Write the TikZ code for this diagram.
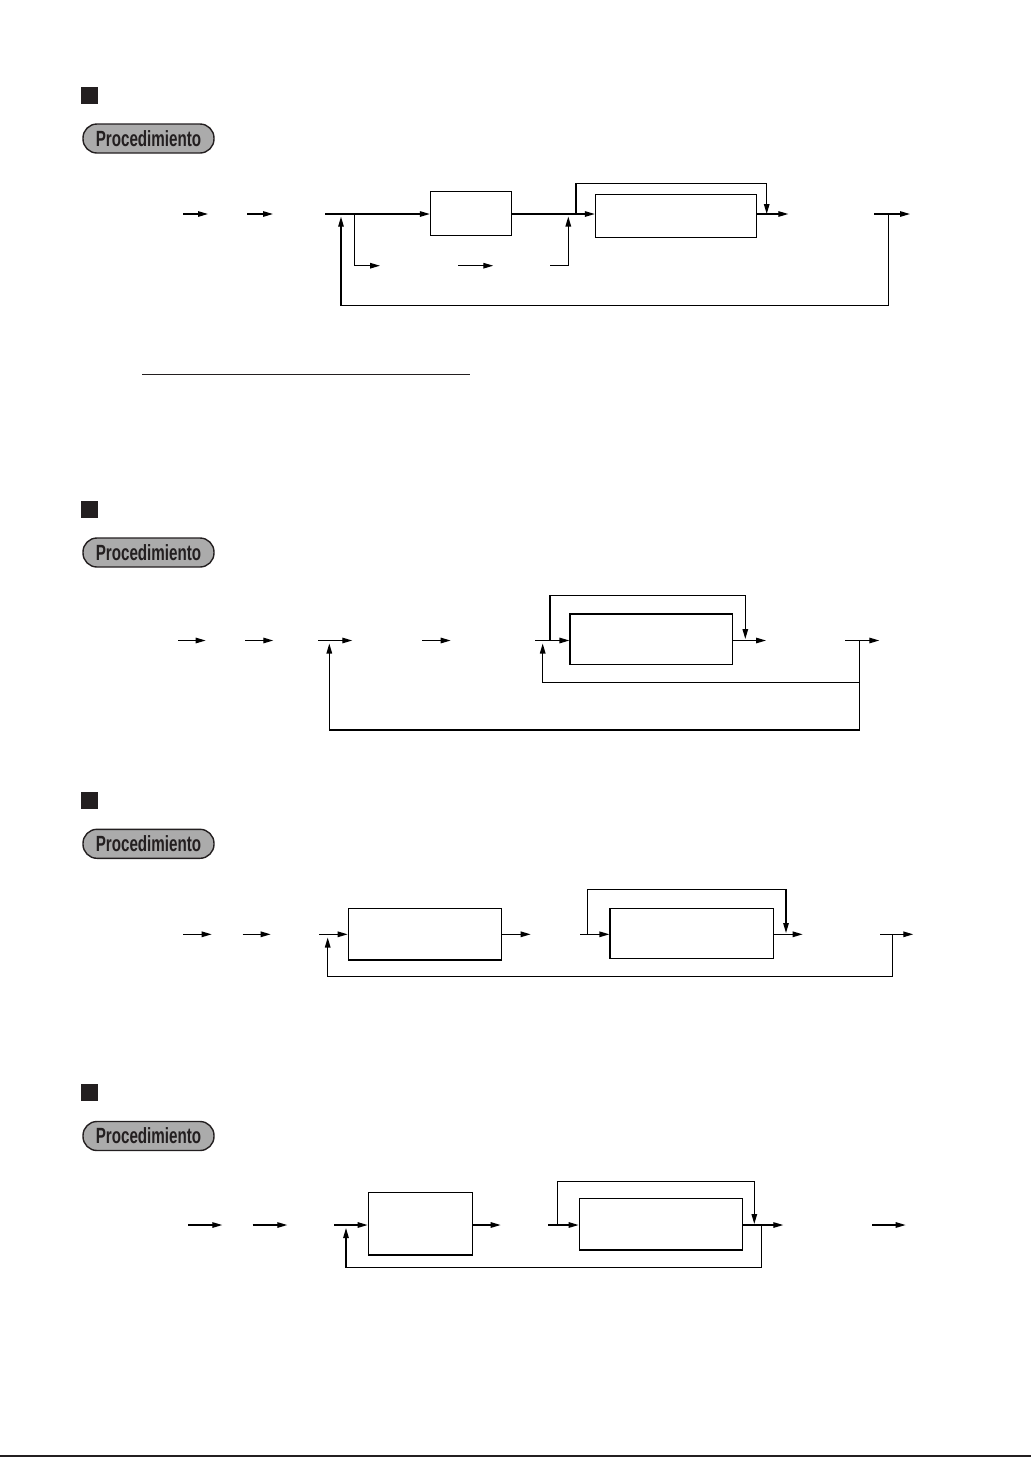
\documentclass[tikz,border=0pt]{standalone}
\usepackage{fontspec}
\setmainfont{Liberation Sans}
\usetikzlibrary{arrows.meta}
\definecolor{ink}{HTML}{231F20}
\definecolor{pillgray}{HTML}{ABABAB}
\newcommand{\proctext}{\raisebox{-1.5pt}{\scalebox{0.69}[1]{Procedimiento}}}
\begin{document}
\begin{tikzpicture}[x=1pt,y=-1pt,
  conn/.style={line width=1.3pt, draw=black},
  arr/.style={conn, -{Triangle[length=10pt,width=5.5pt]}},
  box/.style={draw=black, line width=1.3pt, inner sep=0pt},
  pill/.style={draw=ink, fill=pillgray, line width=1.4pt, rounded corners=14pt,
    minimum width=131pt, minimum height=29pt, inner sep=0pt, text=ink,
    font=\fontsize{22}{24}\selectfont\bfseries},
  sq/.style={fill=ink, draw=none}
]
\useasboundingbox (0,0) rectangle (1031,1457);

% ---------------- Section 1 ----------------
\fill[sq] (81,87) rectangle (98,104);
\node[pill] (p1) at (148.5,138.5) {\proctext};

\coordinate (a1s) at (183,214); \coordinate (a1e) at (208,214);
\coordinate (a2s) at (247,214); \coordinate (a2e) at (273,214);
\draw[arr] (a1s) -- (a1e);
\draw[arr] (a2s) -- (a2e);
\node[box, minimum width=81pt, minimum height=44pt] (b1) at (471,213.5) {};
\node[box, minimum width=161pt, minimum height=43pt] (b2) at (676,215.8) {};
\coordinate (m1s) at (325,214);
\draw[arr] (m1s) -- (b1.west |- m1s);
\coordinate (j1) at (576,214);
\draw[conn] (b1.east |- j1) -- (j1);
\draw[arr] (j1) -- (b2.west |- j1);
\coordinate (l1a) at (576,183.3); \coordinate (l1b) at (766.7,183.3); \coordinate (l1c) at (766.7,214);
\draw[arr] (j1) -- (l1a) -- (l1b) -- (l1c);
\coordinate (o1) at (788.3,214);
\draw[arr] (b2.east |- o1) -- (o1);
% lower branch
\coordinate (br1) at (354.3,214); \coordinate (br2) at (354.3,265.7); \coordinate (br3) at (380,265.7);
\draw[arr] (br1) -- (br2) -- (br3);
\coordinate (br4) at (458.3,265.7); \coordinate (br5) at (493.3,265.7);
\draw[arr] (br4) -- (br5);
\coordinate (br6) at (550,265.7); \coordinate (br7) at (568.3,265.7); \coordinate (br8) at (568.3,216.5);
\draw[arr] (br6) -- (br7) -- (br8);
% right and feedback
\coordinate (r1s) at (874.3,214); \coordinate (r1e) at (910,214);
\draw[arr] (r1s) -- (r1e);
\coordinate (f1a) at (888.7,214); \coordinate (f1b) at (888.7,305.3);
\coordinate (f1c) at (341,305.3); \coordinate (f1d) at (341,216.7);
\draw[arr] (f1a) -- (f1b) -- (f1c) -- (f1d);
% underline
\coordinate (u1) at (142.3,374.3); \coordinate (u2) at (470,374.3);
\draw[line width=1pt, draw=ink] (u1) -- (u2);

% ---------------- Section 2 ----------------
\fill[sq] (81,501) rectangle (98,518);
\node[pill] (p2) at (148.5,552.5) {\proctext};
\coordinate (c1s) at (178.3,640.5); \coordinate (c1e) at (205.7,640.5);
\coordinate (c2s) at (245,640.5); \coordinate (c2e) at (273.3,640.5);
\coordinate (c3s) at (318.3,640.5); \coordinate (c3e) at (352.3,640.5);
\coordinate (c4s) at (422.3,640.5); \coordinate (c4e) at (450.7,640.5);
\draw[arr] (c1s) -- (c1e);
\draw[arr] (c2s) -- (c2e);
\draw[arr] (c3s) -- (c3e);
\draw[arr] (c4s) -- (c4e);
\node[box, minimum width=162.7pt, minimum height=50.3pt] (b3) at (651.4,639.2) {};
\coordinate (j2) at (535,640.5);
\draw[arr] (j2) -- (b3.west |- j2);
\coordinate (l2o) at (550,640.5); \coordinate (l2a) at (550,595.3); \coordinate (l2b) at (745.3,595.3); \coordinate (l2c) at (745.3,639);
\draw[arr] (l2o) -- (l2a) -- (l2b) -- (l2c);
\coordinate (o2) at (766,640.5);
\draw[arr] (b3.east |- o2) -- (o2);
\coordinate (r2s) at (845,640.5); \coordinate (r2e) at (879.3,640.5);
\draw[arr] (r2s) -- (r2e);
\coordinate (f2a) at (859.3,640.5); \coordinate (f2b) at (859.3,682.3);
\coordinate (f2c) at (542.7,682.3); \coordinate (f2d) at (542.7,643.5);
\draw[arr] (f2b) -- (f2c) -- (f2d);
\coordinate (f2e) at (859.3,730); \coordinate (f2f) at (329.3,730); \coordinate (f2g) at (329.3,643.5);
\draw[arr] (f2a) -- (f2e) -- (f2f) -- (f2g);

% ---------------- Section 3 ----------------
\fill[sq] (81,792) rectangle (98,809);
\node[pill] (p3) at (148.5,843.8) {\proctext};
\coordinate (d1s) at (183.3,934.3); \coordinate (d1e) at (211.7,934.3);
\coordinate (d2s) at (242.7,934.3); \coordinate (d2e) at (270.7,934.3);
\draw[arr] (d1s) -- (d1e);
\draw[arr] (d2s) -- (d2e);
\node[box, minimum width=153.4pt, minimum height=51.7pt] (b4) at (425,934.2) {};
\node[box, minimum width=163.3pt, minimum height=50pt] (b5) at (691.7,933.3) {};
\coordinate (m3s) at (319.3,934.3);
\draw[arr] (m3s) -- (b4.west |- m3s);
\coordinate (o3a) at (530.7,934.3);
\draw[arr] (b4.east |- o3a) -- (o3a);
\coordinate (j3) at (580,934.3);
\draw[arr] (j3) -- (b5.west |- j3);
\coordinate (l3o) at (587.7,934.3); \coordinate (l3a) at (587.7,889.3); \coordinate (l3b) at (786,889.3); \coordinate (l3c) at (786,933);
\draw[arr] (l3o) -- (l3a) -- (l3b) -- (l3c);
\coordinate (o3b) at (802.7,934.3);
\draw[arr] (b5.east |- o3b) -- (o3b);
\coordinate (r3s) at (880,934.3); \coordinate (r3e) at (913.3,934.3);
\draw[arr] (r3s) -- (r3e);
\coordinate (f3a) at (892.3,934.3); \coordinate (f3b) at (892.3,976.7);
\coordinate (f3c) at (327.7,976.7); \coordinate (f3d) at (327.7,937.5);
\draw[arr] (f3a) -- (f3b) -- (f3c) -- (f3d);

% ---------------- Section 4 ----------------
\fill[sq] (81,1084) rectangle (98,1101);
\node[pill] (p4) at (148.5,1136) {\proctext};
\coordinate (e1s) at (188.3,1225); \coordinate (e1e) at (222.3,1225);
\coordinate (e2s) at (252.7,1225); \coordinate (e2e) at (287.3,1225);
\draw[arr] (e1s) -- (e1e);
\draw[arr] (e2s) -- (e2e);
\node[box, minimum width=104.4pt, minimum height=62.7pt] (b6) at (420.5,1223.7) {};
\node[box, minimum width=163pt, minimum height=51.7pt] (b7) at (660.8,1224.2) {};
\coordinate (m4s) at (334,1225);
\draw[arr] (m4s) -- (b6.west |- m4s);
\coordinate (o4a) at (500.7,1225);
\draw[arr] (b6.east |- o4a) -- (o4a);
\coordinate (j4) at (548.3,1225);
\draw[arr] (j4) -- (b7.west |- j4);
\coordinate (l4o) at (557.3,1225); \coordinate (l4a) at (557.3,1181.7); \coordinate (l4b) at (754.3,1181.7); \coordinate (l4c) at (754.3,1224);
\draw[arr] (l4o) -- (l4a) -- (l4b) -- (l4c);
\coordinate (o4b) at (783.3,1225);
\draw[arr] (b7.east |- o4b) -- (o4b);
\coordinate (f4a) at (761.3,1225); \coordinate (f4b) at (761.3,1267.3);
\coordinate (f4c) at (346,1267.3); \coordinate (f4d) at (346,1228);
\draw[arr] (f4a) -- (f4b) -- (f4c) -- (f4d);
\coordinate (r4s) at (872.3,1225); \coordinate (r4e) at (905.7,1225);
\draw[arr] (r4s) -- (r4e);

% bottom rule
\coordinate (z1) at (0,1455.7); \coordinate (z2) at (1031,1455.7);
\draw[line width=1.6pt, draw=ink] (z1) -- (z2);
\end{tikzpicture}
\end{document}
